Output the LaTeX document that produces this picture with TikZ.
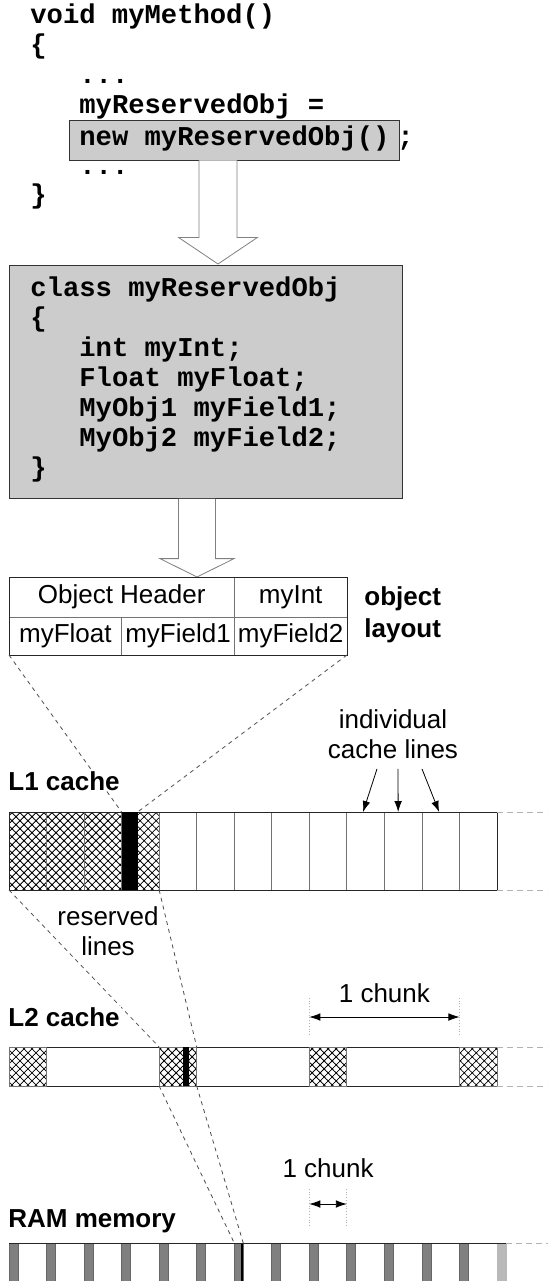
\documentclass[tikz,border=0pt]{standalone}
\usepackage{fontspec}
\setmainfont{Liberation Sans}
\setmonofont{Liberation Mono}
\usetikzlibrary{
	positioning			% Allows right=0pt of x style placement
	, arrows.meta		% Sized Latex tips
	, patterns.meta		% Hatch pattern for reserved lines
	, calc
}

\begin{document}
\begin{tikzpicture}[
			x=0.5pt, y=-0.5pt,
			src/.style={
				font=\fontsize{13.6}{15}\selectfont\ttfamily\bfseries,
				inner sep=0pt,
				anchor=base west
			},
			codebox/.style={
				src,
				draw=black!80, fill=gray!40,
				inner xsep=5pt, inner ysep=3.5pt,
				text height=9pt, text depth=4pt
			},
			classbox/.style={
				draw=black!80, fill=gray!40,
				anchor=north west, inner sep=0pt,
				minimum width=196.5pt, minimum height=116.5pt
			},
			fatarrow/.style n args={3}{
				draw=gray, fill=white,
				to path={let \p1=(\tikztostart), \p2=(\tikztotarget) in
					(\x2-#1,\y1) -- (\x2-#1,\y2+#3) -- (\x2-#2,\y2+#3) -- (\tikztotarget)
					-- (\x2+#2,\y2+#3) -- (\x2+#1,\y2+#3) -- (\x2+#1,\y1)}
			},
			field/.style={
				draw=black!55,
				anchor=north west,
				inner sep=0pt, outer sep=0pt,
				minimum width=56.33pt, minimum height=20pt,
				font=\fontsize{13}{15}\selectfont
			},
			cacheline/.style={
				draw=black!55,
				anchor=north west,
				inner sep=0pt, outer sep=0pt,
				minimum width=18.77pt, minimum height=39pt
			},
			reserved/.style={
				cacheline,
				pattern={Hatch[angle=45,distance=2.83pt,line width=0.4pt]}
			},
			objbar/.style={
				fill=black,
				anchor=north west,
				inner sep=0pt, outer sep=0pt
			},
			rambar/.style={
				fill=gray, draw=black!60,
				anchor=north west,
				inner sep=0pt, outer sep=0pt,
				minimum width=4.5pt, minimum height=21pt
			},
			tag/.style={
				font=\fontsize{13}{15}\selectfont\bfseries,
				fill=white, inner sep=0.5pt,
				anchor=base west
			},
			note/.style={
				font=\fontsize{13}{15}\selectfont,
				inner sep=0pt, align=center
			},
			zoomline/.style={
				black!70, dash pattern=on 2pt off 2pt
			},
			tail/.style={
				gray!60, dash pattern=on 3pt off 2pt
			},
			guide/.style={
				gray!60, densely dotted
			},
			>={Latex[length=5.5pt,width=3.8pt]}]

			\useasboundingbox (0,0) rectangle (547,1281);

			%%% The method that allocates the object
			\node [src] (m0) at (30,23) {void myMethod()};
			\node [src] (m1) at (30,53) {\{};
			\node [src] (m2) at (79,83) {...};
			\node [src] (m3) at (79,113) {myReservedObj =};
			\node [codebox] (new) at (69,145) {new myReservedObj()};
			\node [src] (semi) at ([xshift=-1.5pt]new.base east) {;};
			\node [src] (m5) at (79,174) {...};
			\node [src] (m6) at (30,203) {\}};

			%%% The class definition
			\node [classbox] (cls) at (9,265) {};
			\node [src] (cl0) at (30,296) {class myReservedObj};
			\node [src] (cl1) at (30,326) {\{};
			\foreach \ln [count=\i from 2] in {int myInt;, Float myFloat;, MyObj1 myField1;, MyObj2 myField2;} {
				\node [src] (cl\i) at (79,{296+30*\i}) {\ln};
			};
			\node [src] (cl6) at (30,476) {\}};

			\coordinate (tipA) at (218,264);
			\coordinate (tipB) at (197,577);
			\draw [fatarrow={9.5pt}{19.75pt}{13.3pt}] (new.south) to (tipA);
			\draw [fatarrow={9.25pt}{18.5pt}{9.2pt}] (cls.south) to (tipB);

			%%% Object layout
			\node [field, minimum width=112.67pt] (hdr) at (9,577) {Object Header};
			\node [field, right=0pt of hdr] (int) {myInt};
			\node [field, minimum height=19pt, below right=0pt and 0pt of hdr.south west] (flt) {myFloat};
			\node [field, minimum height=19pt, right=0pt of flt] (fld1) {myField1};
			\node [field, minimum height=19pt, right=0pt of fld1] (fld2) {myField2};
			\draw [black!85] (hdr.north west) rectangle (fld2.south east);
			\node [note, font=\fontsize{13}{16}\selectfont\bfseries, align=left, anchor=north west] (lay) at (364,586) {object\\layout};

			%%% L1 cache
			\foreach \i in {0,...,3} {
				\node [reserved] (c\i) at ({9+37.54*\i},812) {};
			};
			\foreach \i in {4,...,12} {
				\node [cacheline] (c\i) at ({9+37.54*\i},812) {};
			};
			\draw [black!85] (c0.north west) rectangle (c12.south east);
			\node [objbar, minimum width=8pt, minimum height=39pt] (obj1) at (c3.north west) {};
			\draw [tail] (c12.north east) -- ++(50,0);
			\draw [tail] (c12.south east) -- ++(50,0);

			\node [note, anchor=north] (indiv) at (393,709) {individual\\cache lines};
			\draw [->] ([xshift=-8pt,yshift=-5pt]indiv.south) -- ([xshift=-1.3pt]c9.north);
			\draw [->] ([xshift=2.5pt,yshift=-5pt]indiv.south) -- ([xshift=-2.5pt]c10.north);
			\draw [->] ([xshift=14.5pt,yshift=-5pt]indiv.south) -- ([xshift=-0.8pt]c11.north);

			%%% L2 cache
			\node [cacheline, draw=black!85, minimum width=244pt, minimum height=19.5pt] (l2) at (9,1047) {};
			\foreach \k in {0,...,3} {
				\node [reserved, minimum height=19.5pt] (b\k) at ({9+150.16*\k},1047) {};
			};
			\node [objbar, minimum width=3pt, minimum height=19.5pt] (obj2) at ([xshift=12pt]b1.north west) {};
			\draw [tail] (l2.north east) -- ++(50,0);
			\draw [tail] (l2.south east) -- ++(50,0);

			\draw [guide] ([yshift=6pt]b2.north west) -- ([yshift=25pt]b2.north west);
			\draw [guide] ([yshift=6pt]b3.north west) -- ([yshift=25pt]b3.north west);
			\draw [<->] ([yshift=15pt]b2.north west) -- node [note, above=7pt] (chunk2) {1 chunk} ([yshift=15pt]b3.north west);

			%%% RAM
			\foreach \k in {0,...,12} {
				\node [rambar] (r\k) at ({9+37.54*\k},1243) {};
			};
			\node [rambar, fill=gray!55, draw=gray!55] (r13) at ({9+37.54*13},1243) {};
			\node [objbar, anchor=north east, minimum width=1pt, minimum height=21pt] (obj3) at (r6.north east) {};
			\draw [black!85] (r0.north west) -- (r13.north east);
			\draw [tail] (r13.north east) -- ++(42,0);

			\draw [guide] ([yshift=8.5pt]r8.north west) -- ([yshift=28pt]r8.north west);
			\draw [guide] ([yshift=8.5pt]r9.north west) -- ([yshift=28pt]r9.north west);
			\draw [<->] ([yshift=19.5pt]r8.north west) -- node [note, above=13pt] (chunk3) {1 chunk} ([yshift=19.5pt]r9.north west);

			%%% Zoom lines between levels
			\draw [zoomline] (flt.south west) -- (obj1.north west);
			\draw [zoomline] (fld2.south east) -- (obj1.north east);
			\draw [zoomline] (c0.south west) -- (b1.north west);
			\draw [zoomline] (c3.south east) -- (b1.north east);
			\draw [zoomline] (b1.south west) -- (r6.north west);
			\draw [zoomline] (b1.south east) -- (obj3.north east);

			\node [note, anchor=north] (res) at (108,906) {reserved\\lines};
			\node [tag] (l1lbl) at (7,790) {L1 cache};
			\node [tag] (l2lbl) at (7,1026) {L2 cache};
			\node [tag] (ramlbl) at (7,1227) {RAM memory};

		\end{tikzpicture}
\end{document}
